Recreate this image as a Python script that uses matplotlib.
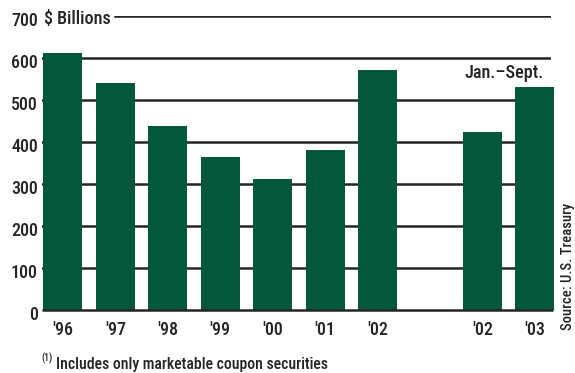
import matplotlib
matplotlib.use("Agg")
import matplotlib.pyplot as plt
from matplotlib import font_manager
from matplotlib.transforms import ScaledTranslation, blended_transform_factory

# Data: gross coupon issuance, $ billions
categories = ["'96", "'97", "'98", "'99", "'00", "'01", "'02", "'02", "'03"]
values = [611, 540, 437, 364, 311, 380, 571, 424, 530]
positions = [0, 1, 2, 3, 4, 5, 6, 8, 9]
ytick_values = [0, 100, 200, 300, 400, 500, 600, 700]
ytick_labels = ["0", "100", "200", "300", "400", "500", "600", "700"]

names = {f.name for f in font_manager.fontManager.ttflist}
candidates = ["Roboto Condensed", "Arial Narrow", "Liberation Sans Narrow", "PT Sans Narrow",
              "Archivo Narrow", "Fira Sans Condensed", "IBM Plex Sans Condensed",
              "Open Sans Condensed", "Encode Sans Condensed", "Barlow Semi Condensed",
              "Liberation Sans"]
family = next(c for c in candidates if c in names)
plt.rcParams["font.family"] = [family, "DejaVu Sans"]
plt.rcParams["font.weight"] = 500

BAR = "#03573a"
INK = "#262324"

W, H = 575, 373
fig = plt.figure(figsize=(W / 100, H / 100), dpi=100)
left_px, right_px, top_px, zero_px = 42, 551, 16, 309.5
ax = fig.add_axes([left_px / W, (H - zero_px) / H,
                   (right_px - left_px) / W, (zero_px - top_px) / H])
ax.set_xlim(-0.40, 9.31)
ax.set_ylim(0, 700)
for s in ax.spines.values():
    s.set_visible(False)

# horizontal rules
for v in ytick_values[1:-1]:
    ax.axhline(v, color=INK, lw=1.8, zorder=1)
ax.axhline(700, xmin=(115 - left_px) / (right_px - left_px), xmax=1,
           color=INK, lw=1.8, zorder=1)
ax.plot([0, 1.003], [0, 0], transform=blended_transform_factory(ax.transAxes, ax.transData),
        color=INK, lw=1.8, zorder=3, clip_on=False, solid_capstyle="butt")

ax.bar(positions, values, width=0.745, color=BAR, zorder=2, clip_on=False)

FS = 13
ax.set_xticks(positions)
ax.set_xticklabels(categories, fontsize=FS, color=INK)
ax.set_yticks(ytick_values)
ax.set_yticklabels(ytick_labels, fontsize=FS, color=INK)
ax.tick_params(axis="both", length=0)
ax.tick_params(axis="y", pad=3)
ax.tick_params(axis="x", pad=8)
for lab in ax.get_yticklabels():
    lab.set_transform(lab.get_transform() + ScaledTranslation(0, -3.5 / 100, fig.dpi_scale_trans))

fig.text(44 / W, 1 - 19.5 / H, "$ Billions", fontsize=FS, color=INK, ha="left", va="center")
fig.text(544 / W, 1 - 73 / H, "Jan.\u2013Sept.", fontsize=FS, color=INK, ha="right", va="center")
fig.text(568 / W, 1 - 330 / H, "Source: U.S. Treasury", fontsize=10.5, color=INK,
         rotation=90, ha="center", va="bottom")
fig.text(41.5 / W, 1 - 358 / H, "(1)", fontsize=7, color=INK, ha="left", va="center")
fig.text(56 / W, 1 - 364 / H, "Includes only marketable coupon securities", fontsize=11.3,
         color=INK, ha="left", va="center")

fig.savefig("out.png", dpi=100)
